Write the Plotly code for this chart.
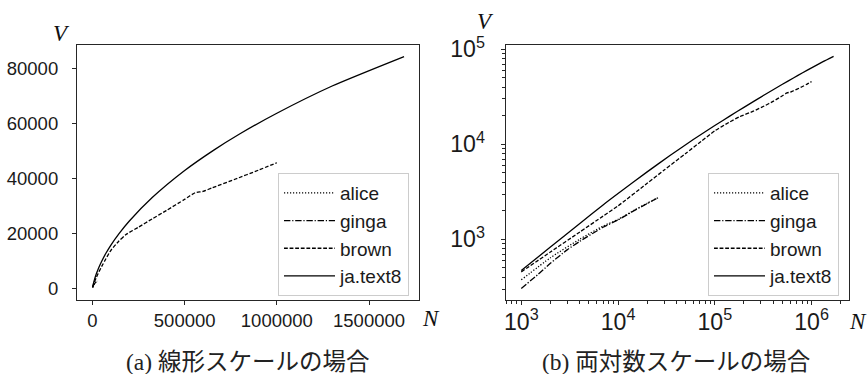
import plotly.graph_objects as go

# ---------------- data ----------------
series_names = ["alice", "ginga", "brown", "ja.text8"]

alice_N = [1000, 2000, 4000, 7000, 10000, 15000, 20000, 27000]
alice_V = [375, 640, 1000, 1380, 1620, 2050, 2400, 2800]

ginga_N = [1000, 1500, 2000, 3000, 4000, 7000, 10000, 15000, 20000, 26000]
ginga_V = [305, 430, 560, 780, 950, 1340, 1600, 2030, 2380, 2750]

brown_N = [1000, 2000, 4000, 7000, 10000, 20000, 30000, 50000, 72000, 100000,
           140000, 180000, 250000, 324000, 400000, 500000, 557000, 600000,
           650000, 773000, 900000, 1000000]
brown_V = [455, 736, 1190, 1755, 2250, 3890, 5360, 8020, 10700, 13870,
           17000, 19500, 22300, 25300, 28300, 32400, 34800, 35300,
           36600, 39700, 43000, 45700]

text8_N = [1000, 2000, 4000, 7000, 10000, 20000, 35000, 50000, 72000, 100000,
           144000, 200000, 324000, 500000, 656000, 800000, 1000000,
           1300000, 1690000]
text8_V = [470, 830, 1460, 2300, 3030, 5130, 7720, 9910, 12700, 15770,
           19920, 24500, 33030, 42870, 50200, 56230, 63700,
           73600, 84300]

lin_x_ticks = [0, 500000, 1000000, 1500000]
lin_y_ticks = [0, 20000, 40000, 60000, 80000]

caption_a = "(a) 線形スケールの場合"
caption_b = "(b) 両対数スケールの場合"

# ---------------- styling ----------------
W, H = 868, 374
FRAME = "#262626"
TICKFONT = dict(family="Liberation Sans, Arial, sans-serif", size=18.5, color="#1a1a1a")
dashes = {
    "alice": "1.2px,1.8px",
    "ginga": "6.4px,1.8px,1.2px,1.8px",
    "brown": "3.8px,1.8px",
    "ja.text8": "solid",
}
data = {
    "alice": (alice_N, alice_V),
    "ginga": (ginga_N, ginga_V),
    "brown": (brown_N, brown_V),
    "ja.text8": (text8_N, text8_V),
}

fig = go.Figure()
for ax, leg in (("", "legend"), ("2", "legend2")):
    for name in series_names:
        xs, ys = data[name]
        fig.add_trace(go.Scatter(
            x=xs, y=ys, mode="lines", name=name,
            line=dict(color="black", width=1.3, dash=dashes[name],
                      shape="spline", smoothing=0.6),
            xaxis="x" + ax, yaxis="y" + ax, legend=leg,
            legendgroup=name + ax, showlegend=True,
        ))

def px_x(p):
    return p / W

def px_y(p):
    return 1 - p / H

dom_y = [px_y(300), px_y(45)]

common = dict(
    showline=True, linecolor=FRAME, linewidth=1.2, mirror=True,
    ticks="outside", ticklen=4, tickwidth=1, tickcolor=FRAME,
    showgrid=False, zeroline=False, tickfont=TICKFONT, automargin=False,
)
minor = dict(ticks="outside", ticklen=2.5, tickwidth=1, tickcolor=FRAME,
             dtick="D1", showgrid=False)

legend_common = dict(
    xanchor="left", yanchor="top", bgcolor="white",
    bordercolor="#cccccc", borderwidth=1, itemwidth=51,
    font=dict(family="Liberation Sans, Arial, sans-serif", size=19, color="#1a1a1a"),
    tracegroupgap=0, traceorder="grouped",
)

fig.update_layout(
    width=W, height=H,
    margin=dict(l=0, r=0, t=0, b=0, autoexpand=False),
    paper_bgcolor="white", plot_bgcolor="white",
    xaxis=dict(domain=[px_x(77), px_x(419)], range=[-84000, 1771000],
               tickvals=lin_x_ticks, tickformat="d", anchor="y",
               ticklabelstandoff=0, **common),
    yaxis=dict(domain=dom_y, range=[-4200, 88500], tickvals=lin_y_ticks,
               tickformat="d", anchor="x", ticklabelstandoff=10, **common),
    xaxis2=dict(domain=[px_x(505.7), px_x(849)], type="log",
                range=[2.839, 6.387], dtick=1, exponentformat="power",
                anchor="y2", ticklabelstandoff=-2, minor=minor, **common),
    yaxis2=dict(domain=dom_y, type="log", range=[2.362, 5.045], dtick=1,
                exponentformat="power", anchor="x2", ticklabelstandoff=12,
                minor=minor, **common),
    legend=dict(x=px_x(278), y=px_y(173), **legend_common),
    legend2=dict(x=px_x(708), y=px_y(173), **legend_common),
)

serif_it = dict(family="Liberation Serif, DejaVu Serif, serif", size=23, color="#111")
labels = [
    ("<i>V</i>", 61, 33),
    ("<i>N</i>", 431, 318),
    ("<i>V</i>", 486, 21),
    ("<i>N</i>", 858, 321),
]
for txt, x, y in labels:
    fig.add_annotation(text=txt, x=px_x(x), y=px_y(y), xref="paper", yref="paper",
                       showarrow=False, xanchor="center", yanchor="middle", font=serif_it)

cap_font = dict(family="Liberation Serif, Noto Sans CJK JP, serif", size=23.5, color="#222")
fig.add_annotation(text=caption_a, x=px_x(247), y=px_y(362), xref="paper", yref="paper",
                   showarrow=False, xanchor="center", yanchor="middle", font=cap_font)
fig.add_annotation(text=caption_b, x=px_x(676), y=px_y(362), xref="paper", yref="paper",
                   showarrow=False, xanchor="center", yanchor="middle", font=cap_font)

fig.write_html("out.html", config={"displayModeBar": False},
               post_script="document.body.style.margin='0px';document.body.style.padding='0px';")
